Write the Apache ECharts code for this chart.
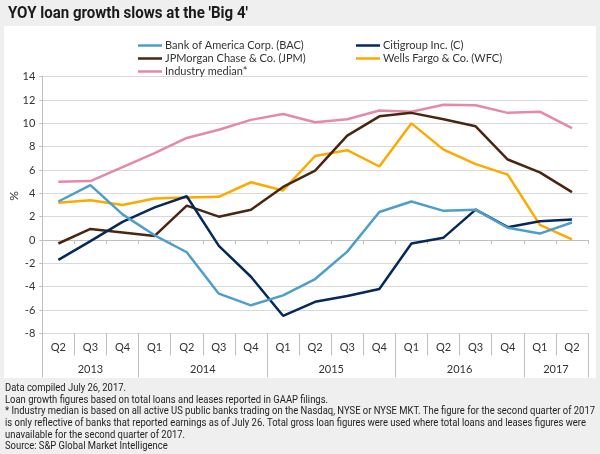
<!DOCTYPE html>
<html>
<head>
<meta charset="utf-8">
<script src="https://cdn.jsdelivr.net/npm/echarts@6/dist/echarts.min.js"></script>
<style>
html,body{margin:0;padding:0;background:#efefef;}
#c{width:600px;height:454px;}
</style>
</head>
<body>
<div id="c"></div>
<script>
var quarters = ['Q2','Q3','Q4','Q1','Q2','Q3','Q4','Q1','Q2','Q3','Q4','Q1','Q2','Q3','Q4','Q1','Q2'];
var years = ['2013','2014','2015','2016','2017'];
var yearSpans = [3,4,4,4,2];
var yTicks = [-8,-6,-4,-2,0,2,4,6,8,10,12,14];

var bac = [3.3,4.7,2.2,0.4,-1.05,-4.6,-5.6,-4.75,-3.35,-1.0,2.4,3.3,2.5,2.6,1.05,0.55,1.5];
var citi = [-1.7,-0.1,1.55,2.8,3.75,-0.5,-3.15,-6.5,-5.3,-4.8,-4.2,-0.3,0.2,2.6,1.1,1.6,1.75];
var jpm = [-0.3,0.95,0.65,0.35,2.95,2.0,2.6,4.55,5.95,8.95,10.6,10.9,10.35,9.75,6.9,5.8,4.1];
var wfc = [3.2,3.4,3.0,3.55,3.65,3.7,4.95,4.25,7.2,7.7,6.3,10.0,7.75,6.5,5.6,1.3,0.05];
var median = [5.0,5.05,6.25,7.45,8.75,9.45,10.3,10.8,10.1,10.35,11.1,11.0,11.6,11.55,10.9,11.0,9.6];

var names = ['Bank of America Corp. (BAC)','Citigroup Inc. (C)','JPMorgan Chase & Co. (JPM)','Wells Fargo & Co. (WFC)','Industry median*'];
var colors = ['#4d9ecb','#06285a','#4a2511','#fda900','#e589aa'];
var values = [bac, citi, jpm, wfc, median];

var footnotes = [
 'Data compiled July 26, 2017.',
 'Loan growth figures based on total loans and leases reported in GAAP filings.',
 '* Industry median is based on all active US public banks trading on the Nasdaq, NYSE or NYSE MKT. The figure for the second quarter of 2017',
 'is only reflective of banks that reported earnings as of July 26. Total gross loan figures were used where total loans and leases figures were',
 'unavailable for the second quarter of 2017.',
 'Source: S&P Global Market Intelligence'
];
var title = "YOY loan growth slows at the 'Big 4'";

// year boundaries and centers
var yearBounds = [0], yearCenters = [], acc = 0;
yearSpans.forEach(function(s){ yearCenters.push(acc + s/2); acc += s; yearBounds.push(acc); });

var mctx = document.createElement('canvas').getContext('2d');
function textW(t, font){ mctx.font = font; return mctx.measureText(t).width; }

var chart = echarts.init(document.getElementById('c'), null, {renderer:'canvas'});
var FONT = 'Lato';
var gridCol = '#d9d9d9', axisCol = '#bfbfbf';

var titleFont = 'bold 16.5px Roboto';
var titleScale = 240 / textW(title, titleFont);
var fnFont = '10.5px Roboto';
var fnScale = 590 / textW(footnotes[2], fnFont);

var graphics = [
  {type:'rect', shape:{x:4,y:26,width:592,height:352}, style:{fill:'#ffffff'}, z:-10, silent:true},
  {type:'text', x:8, y:5, scaleX:titleScale, style:{text:title, font:titleFont, fill:'#1a1a1a'}},
  {type:'text', x:14, y:196, rotation:Math.PI/2, style:{text:'%', font:'12px Lato', fill:'#333', align:'center', verticalAlign:'middle'}}
];
footnotes.forEach(function(t,i){
  graphics.push({type:'text', x:5, y:383 + i*11.6, scaleX:fnScale, style:{text:t, font:fnFont, fill:'#222'}});
});

var series = names.map(function(n,i){
  return {name:n, type:'line', xAxisIndex:0, yAxisIndex:0, data:values[i], symbol:'none', showSymbol:false,
    lineStyle:{color:colors[i], width:2.5}, itemStyle:{color:colors[i]}, z: 10 - i, animation:false};
});

var legendCommon = {orient:'vertical', icon:'rect', itemWidth:24, itemHeight:2.5, itemGap:0,
  textStyle:{fontSize:11, color:'#333', fontFamily:FONT, lineHeight:13, padding:[0,0,0,-2]}};

chart.setOption({
  animation:false,
  backgroundColor:'#efefef',
  textStyle:{fontFamily:FONT},
  graphic:graphics,
  legend:[
    Object.assign({left:133, top:34, data:[names[0],names[2],names[4]]}, legendCommon),
    Object.assign({left:351, top:34, data:[names[1],names[3]]}, legendCommon)
  ],
  grid:{left:42.3, right:12, top:76.7, bottom:120.7},
  xAxis:[
    {type:'category', data:quarters, boundaryGap:true,
     axisLine:{show:true, onZero:true, lineStyle:{color:axisCol, width:1}},
     axisTick:{show:true, length:4, lineStyle:{color:axisCol}},
     axisLabel:{show:false}, splitLine:{show:false}},
    {type:'category', data:quarters, boundaryGap:true, position:'bottom',
     axisLine:{show:false, onZero:false},
     axisTick:{show:true, length:22, lineStyle:{color:axisCol}},
     axisLabel:{show:true, margin:9, fontSize:11, color:'#333', fontFamily:FONT}, splitLine:{show:false}},
    {type:'value', min:0, max:yearBounds[yearBounds.length-1], position:'bottom',
     axisLine:{show:false, onZero:false}, splitLine:{show:false},
     axisTick:{show:true, length:44, customValues:yearBounds, lineStyle:{color:axisCol}},
     axisLabel:{show:true, margin:31, fontSize:11, color:'#333', fontFamily:FONT, customValues:yearCenters,
       formatter:function(v){ var k = yearCenters.indexOf(v); return k>=0 ? years[k] : ''; }}}
  ],
  yAxis:{type:'value', min:yTicks[0], max:yTicks[yTicks.length-1], interval:2,
    axisLine:{show:true, lineStyle:{color:axisCol}},
    axisTick:{show:true, length:3, lineStyle:{color:axisCol}},
    axisLabel:{fontSize:11, color:'#333', margin:7, fontFamily:FONT},
    splitLine:{show:true, lineStyle:{color:gridCol, width:1}}},
  series:series
});
</script>
</body>
</html>
